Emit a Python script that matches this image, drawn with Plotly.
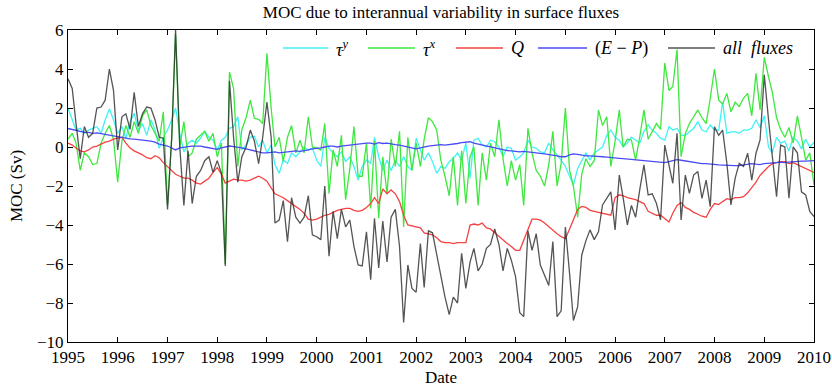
import pandas as pd
import plotly.graph_objects as go

# Monthly dates, Jan 1995 .. Jan 2010
dates = pd.date_range("1995-01-01", periods=181, freq="MS")

# MOC response (Sv) to each surface-flux component
tau_y = [
    2.0, 1.4, 0.87, 0.96, 0.7, 0.87, 0.96, 1.04, 0.7, 1.4, 1.95, 1.4,
    0.7, 1.04, 0.45, 1.3, 1.73, 0.87, 1.2, 0.6, 1.4, 0.87, -0.07, 0.5,
    0.87, 1.4, 2.0, 0.7, -0.25, 0.2, 0.35, 0.2, 0.45, 0.8, 0.5, 0.35,
    -0.15, 0.35, 0.5, 0.96, 1.04, 1.55, -0.15, 0.1, 0.5, 0.55, 0.0, 0.35,
    -0.3, 0.1, -0.9, -1.35, -0.67, -0.84, -0.3, -0.5, -0.25, 0.0, -0.15, -0.07,
    -0.67, -1.0, 0.5, -0.07, -0.3, -0.5, -0.25, -0.75, -0.5, -1.0, -1.7, -1.0,
    -0.67, -0.84, 0.5, -0.5, -1.2, -0.67, -1.2, -0.67, -1.0, -0.5, -1.0, -1.2,
    0.45, -0.15, -0.67, -0.3, -0.75, -1.35, -1.0, -1.1, -0.75, -0.58, -0.3, -0.67,
    0.2, -1.6, 0.35, 0.45, 0.1, 0.0, 0.35, 0.27, 0.0, -0.5, 0.0, -0.07,
    -0.67, -0.5, -0.3, 0.35, 0.0, -0.07, -0.25, -0.3, 0.2, -0.15, -0.4, -0.67,
    -1.0, -1.5, -1.95, -1.1, -0.67, -0.3, -0.67, -0.3, -0.15, 0.0, 0.6, 0.87,
    0.5, 0.35, 0.0, 0.2, 0.5, 0.35, 0.2, 0.8, 1.13, 0.87, 0.7, 0.45,
    0.35, 1.04, 0.87, 0.96, 0.6, 0.6, 0.78, 0.96, 1.3, 0.87, 0.78, 1.13,
    0.87, 0.87, 2.3, 0.7, 0.78, 0.78, 0.7, 0.87, 0.87, 0.96, 1.4, 1.0,
    1.6, 0.0, -0.3, 0.5, 0.2, 0.3, -0.2, 0.5, 0.3, -0.1, 0.4, 0.0,
    0.25,
]

tau_x = [
    0.4, 0.7, 0.2, -1.2, -0.3, -0.5, -0.9, -0.85, 0.2, 0.7, 1.1, 0.4,
    -1.8, 0.3, 1.1, 0.5, 1.3, 0.7, 1.6, 1.9, 1.1, 0.7, 0.3, 1.8,
    -3.0, 0.5, 5.8, 0.0, 1.3, -0.5, -0.3, 0.4, 0.6, 0.8, 0.3, 0.7,
    -0.5, 0.2, -6.0, 3.85, 3.0, -1.0, 0.9, 1.5, 2.4, 1.47, 1.42, 1.2,
    4.8, 2.0, 0.0, 0.5, -0.75, 0.5, 1.1, -0.3, 0.35, -0.3, 1.55, 0.0,
    -0.05, -0.15, 1.2, -2.4, -0.15, -1.0, 0.6, -2.7, -1.1, 1.05, -1.5, -1.5,
    0.2, -3.15, 0.3, -3.65, -0.5, -2.4, 0.4, -1.0, 0.8, -4.1, 0.5, -1.2,
    0.2, -1.0, 0.4, 1.5, 1.3, 0.87, -0.67, -1.5, -2.5, -0.5, -3.0, -0.2,
    -2.9, -0.5, 0.0, -3.0, -0.3, -1.7, 0.2, -0.5, 1.4, -0.6, -2.0, -0.7,
    -1.7, -0.9, -3.0, 0.96, -0.3, -1.2, -1.5, -2.0, -0.9, 0.8, -2.0, -0.84,
    2.0, -1.2, -2.0, -3.6, -1.4, -0.6, -1.0, -0.7, 1.9, 1.1, 1.55, -1.0,
    0.3, 1.9, 0.0, 0.4, 0.36, -0.67, 0.5, 1.9, 0.4, 0.8, 1.2, 0.9,
    4.3, 2.9, 3.1, 5.0, -0.5, 0.7, 1.2, 1.55, 1.9, 1.5, 1.2, 2.5,
    4.0, 2.4, 2.2, 2.75, 1.8, 2.3, 2.07, 2.5, 2.75, 1.6, 3.78, 1.9,
    4.6, 3.6, 2.8, 1.5, 0.9, 0.5, 1.0, 0.2, 1.6, 0.5, -0.67, -0.3,
    -1.95,
]

heat_q = [
    0.2, 0.1, -0.05, -0.2, -0.25, -0.15, 0.0, 0.05, 0.15, 0.25, 0.3, 0.4,
    0.45, 0.5, 0.2, -0.05, -0.2, -0.3, -0.4, -0.55, -0.6, -0.45, -0.55, -0.8,
    -1.0, -1.2, -1.4, -1.5, -1.6, -1.6, -1.7, -1.85, -1.9, -1.75, -1.6, -1.3,
    -1.05, -1.4, -1.85, -1.75, -1.65, -1.7, -1.7, -1.75, -1.7, -1.6, -1.5, -1.6,
    -1.75, -2.1, -2.4, -2.5, -2.6, -2.75, -2.9, -3.05, -3.2, -3.4, -3.7, -3.75,
    -3.7, -3.6, -3.5, -3.45, -3.35, -3.25, -3.2, -3.15, -3.15, -3.25, -3.3, -3.25,
    -3.1, -2.9, -2.6, -2.9, -2.15, -2.4, -2.2, -2.4, -2.8, -3.5, -4.0, -4.05,
    -4.1, -4.15, -4.4, -4.45, -4.5, -4.65, -4.85, -4.9, -4.9, -4.95, -4.9, -4.9,
    -4.9, -4.0, -3.95, -4.0, -3.9, -4.15, -4.2, -4.4, -4.6, -4.75, -4.95, -5.1,
    -5.3, -5.3, -4.8, -4.3, -3.7, -3.7, -3.75, -3.9, -4.1, -4.3, -4.45, -4.6,
    -4.7, -4.2, -3.7, -3.2, -3.05, -3.1, -3.25, -3.3, -3.35, -3.4, -3.45, -3.5,
    -2.6, -2.45, -2.5, -2.6, -2.65, -2.7, -2.8, -2.9, -3.3, -3.4, -3.5, -3.5,
    -3.7, -3.85, -3.4, -3.0, -2.85, -3.1, -3.2, -3.35, -3.45, -3.55, -3.6, -3.2,
    -2.9, -2.95, -2.8, -2.65, -2.7, -2.6, -2.6, -2.55, -2.35, -2.1, -1.8, -1.45,
    -1.2, -1.0, -0.85, -0.8, -0.75, -0.75, -0.85, -0.8, -0.9, -1.0, -1.1, -1.2,
    -1.3,
]

e_minus_p = [
    0.95, 0.9, 0.85, 0.8, 0.75, 0.75, 0.7, 0.72, 0.68, 0.65, 0.6, 0.55,
    0.5, 0.48, 0.45, 0.42, 0.4, 0.38, 0.35, 0.33, 0.3, 0.25, 0.15, 0.1,
    0.05, -0.05, -0.15, -0.05, 0.0, 0.02, 0.05, 0.05, 0.05, 0.0, -0.05, -0.1,
    -0.12, -0.05, 0.0, 0.05, 0.02, 0.0, -0.05, -0.1, -0.15, -0.2, -0.25, -0.3,
    -0.3, -0.28, -0.25, -0.3, -0.28, -0.25, -0.25, -0.2, -0.22, -0.2, -0.15, -0.1,
    -0.08, -0.05, 0.0, 0.05, 0.05, 0.0, 0.05, 0.08, 0.1, 0.12, 0.15, 0.18,
    0.2, 0.2, 0.15, 0.22, 0.18, 0.2, 0.15, 0.12, 0.1, 0.05, 0.0, -0.05,
    -0.1, -0.05, 0.0, 0.05, 0.07, 0.1, 0.12, 0.1, 0.12, 0.15, 0.18, 0.22,
    0.25, 0.27, 0.2, 0.15, 0.1, 0.05, 0.0, -0.05, -0.1, -0.15, -0.18, -0.2,
    -0.22, -0.25, -0.22, -0.25, -0.3, -0.3, -0.33, -0.35, -0.38, -0.4, -0.45, -0.5,
    -0.5, -0.4, -0.35, -0.38, -0.42, -0.45, -0.45, -0.48, -0.5, -0.5, -0.52, -0.55,
    -0.55, -0.58, -0.6, -0.62, -0.63, -0.65, -0.68, -0.7, -0.72, -0.75, -0.78, -0.8,
    -0.8, -0.75, -0.7, -0.65, -0.68, -0.72, -0.75, -0.8, -0.82, -0.85, -0.85, -0.88,
    -0.9, -0.92, -0.93, -0.95, -0.96, -0.96, -0.95, -0.92, -0.88, -0.85, -0.88, -0.9,
    -0.85, -0.82, -0.8, -0.8, -0.78, -0.8, -0.78, -0.75, -0.75, -0.72, -0.72, -0.7,
    -0.7,
]

all_fluxes = [
    3.5, 3.0, 1.2, -0.6, 1.05, 0.5, 0.7, 2.0, 2.05, 2.4, 4.0, 2.9,
    -0.15, 1.55, 1.7, 0.9, 2.8, 1.05, 1.7, 2.05, 2.0, 1.4, 0.5, 0.45,
    -3.2, 0.5, 6.0, 0.0, -3.0, -0.2, -2.9, -1.5, -1.2, -0.7, -0.5, -1.3,
    -0.7, -1.35, -6.1, 3.4, 0.5, -1.8, -0.5, 0.0, 0.87, 0.3, -0.85, 0.5,
    2.3, 0.5, -3.9, -3.75, -2.75, -4.85, -2.6, -3.6, -3.9, -3.6, -2.5, -4.5,
    -4.6, -4.75, -2.0, -5.6, -3.3, -4.7, -3.2, -4.1, -3.75, -5.1, -6.05, -6.1,
    -4.35, -6.8, -3.65, -6.2, -3.8, -5.9, -3.6, -3.2, -5.1, -9.0, -6.05, -7.25,
    -7.45, -4.95, -7.2, -4.3, -4.4, -5.5, -6.6, -7.7, -8.6, -7.7, -8.0, -5.45,
    -7.25, -5.9, -5.2, -6.35, -6.0, -5.2, -5.0, -4.2, -5.0, -6.35, -5.2, -5.8,
    -6.65, -8.5, -8.7, -4.3, -5.3, -4.45, -6.05, -6.6, -7.1, -4.85, -8.7, -8.4,
    -4.1, -6.5, -8.9, -8.2, -5.55, -4.8, -4.25, -4.75, -4.35, -2.97, -2.6, -2.3,
    -4.25, -1.44, -2.6, -4.0, -3.0, -3.6, -2.2, -0.92, -2.46, -2.4, -2.9, -3.74,
    0.1, -0.92, -1.86, 0.7, -3.74, -1.44, -2.38, -1.44, -1.26, -2.63, -1.7, -3.06,
    1.04, 0.6, 0.87, -0.84, -2.97, -1.6, -0.84, -1.0, -0.32, -1.7, -0.32, 0.36,
    3.7, 1.4, -0.67, -2.55, 0.1, 0.0, -2.63, 0.0, -0.3, -2.3, -2.46, -3.3,
    -3.57,
]

labels = [
    "<i>τ</i><sup><i>y</i></sup>",
    "<i>τ</i><sup><i>x</i></sup>",
    "<i>Q</i>",
    "(<i>E</i> − <i>P</i>)",
    "<i>all  fluxes</i>",
]
values = [tau_y, tau_x, heat_q, e_minus_p, all_fluxes]
colors = ["#40f2f5", "#3ee83e", "#f54242", "#4b4bf5", "#2b2b2b"]
opacities = [1.0, 1.0, 1.0, 1.0, 0.8]

serif = "Liberation Serif, Times New Roman, serif"

W, H = 832, 390
L, R, T, B = 68, 18, 30, 48
plot_w, plot_h = W - L - R, H - T - B

fig = go.Figure()
for name, vals, color, alpha in zip(labels, values, colors, opacities):
    fig.add_trace(go.Scatter(
        x=dates, y=vals, name=name, mode="lines",
        line=dict(color=color, width=1.3), opacity=alpha,
        showlegend=False,
    ))

# Key drawn across the top of the axes: long line sample followed by its label
key_line_px = [(283, 328), (368, 415), (456, 503), (538, 587), (668, 715)]
key_y_px = 48
shapes = []
annotations = []
for (x0, x1), name, color, alpha in zip(key_line_px, labels, colors, opacities):
    yp = (H - B - key_y_px) / plot_h
    shapes.append(dict(
        type="line", xref="paper", yref="paper",
        x0=(x0 - L) / plot_w, x1=(x1 - L) / plot_w, y0=yp, y1=yp,
        line=dict(color=color, width=1.3), opacity=alpha,
    ))
    annotations.append(dict(
        xref="paper", yref="paper", x=(x1 + 6 - L) / plot_w, y=yp,
        xanchor="left", yanchor="middle", showarrow=False, text=name,
        font=dict(family=serif, size=18, color="black"),
    ))

axis_common = dict(
    showline=True, linecolor="black", linewidth=1, mirror="allticks",
    ticks="inside", ticklen=5, tickwidth=1, tickcolor="black",
    showgrid=False, zeroline=False, automargin=False,
    tickfont=dict(family=serif, size=17, color="black"),
)

fig.update_layout(
    width=W, height=H,
    margin=dict(l=L, r=R, t=T, b=B),
    paper_bgcolor="white", plot_bgcolor="white",
    font=dict(family=serif, color="black"),
    title=dict(text="MOC due to interannual variability in surface fluxes",
               x=(441 - 0) / W, xanchor="center", y=1 - 12 / H, yanchor="middle",
               font=dict(family=serif, size=17, color="black")),
    xaxis=dict(type="date", range=["1995-01-01", "2010-01-01"],
               dtick="M12", tick0="1995-01-01", tickformat="%Y",
               title=dict(text="Date", font=dict(family=serif, size=17), standoff=4),
               **axis_common),
    yaxis=dict(range=[-10, 6], dtick=2, tickformat="d",
               title=dict(text="MOC (Sv)", font=dict(family=serif, size=17), standoff=10),
               **axis_common),
    shapes=shapes,
    annotations=annotations,
    showlegend=False,
)

fig.write_html("out.html")
